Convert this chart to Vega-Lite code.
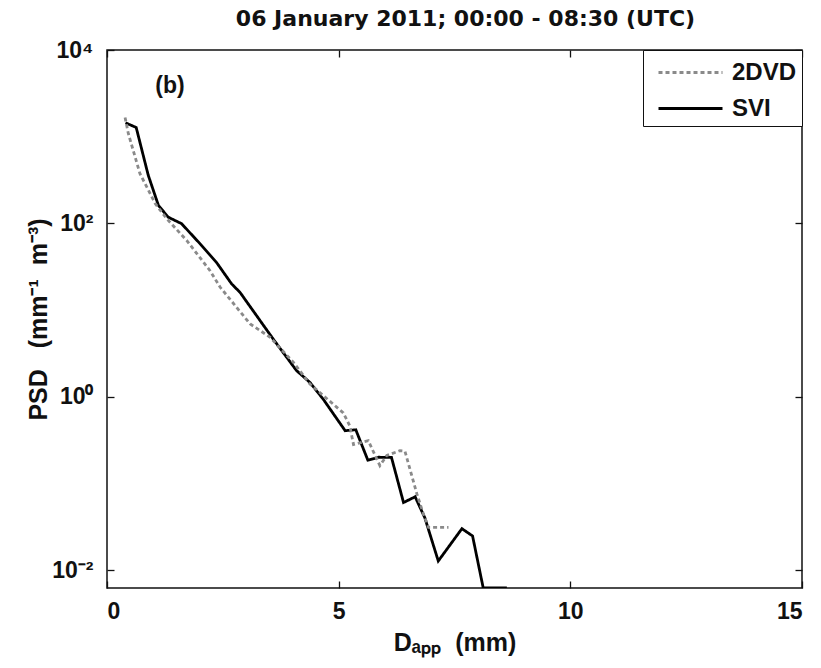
{
  "$schema": "https://vega.github.io/schema/vega-lite/v6.json",
  "autosize": "none",
  "width": 695,
  "height": 538,
  "padding": {"left": 107, "top": 50, "right": 19, "bottom": 80},
  "background": "white",
  "title": {
    "text": "06 January 2011; 00:00 - 08:30 (UTC)",
    "font": "DejaVu Sans",
    "fontSize": 22,
    "fontWeight": "bold",
    "color": "#111",
    "offset": 8,
    "dx": 11
  },
  "config": {
    "view": {"stroke": "#111", "strokeWidth": 1.5},
    "axis": {
      "domain": false,
      "grid": false,
      "tickColor": "#111",
      "tickWidth": 1.3,
      "labelFont": "Liberation Sans",
      "labelFontWeight": "bold",
      "labelFontSize": 23,
      "labelColor": "#111",
      "titleFont": "Liberation Sans",
      "titleFontWeight": "bold",
      "titleFontSize": 25,
      "titleColor": "#111"
    }
  },
  "datasets": {
    "psd": [
      {"series": "SVI", "d": 0.40, "psd": 1445},
      {"series": "SVI", "d": 0.63, "psd": 1277},
      {"series": "SVI", "d": 0.89, "psd": 359},
      {"series": "SVI", "d": 1.11, "psd": 161},
      {"series": "SVI", "d": 1.32, "psd": 118},
      {"series": "SVI", "d": 1.61, "psd": 99},
      {"series": "SVI", "d": 2.01, "psd": 58},
      {"series": "SVI", "d": 2.37, "psd": 35},
      {"series": "SVI", "d": 2.69, "psd": 20},
      {"series": "SVI", "d": 2.87, "psd": 16},
      {"series": "SVI", "d": 3.59, "psd": 4.6},
      {"series": "SVI", "d": 4.09, "psd": 2.0},
      {"series": "SVI", "d": 4.38, "psd": 1.46},
      {"series": "SVI", "d": 4.67, "psd": 0.93},
      {"series": "SVI", "d": 5.14, "psd": 0.405},
      {"series": "SVI", "d": 5.37, "psd": 0.415},
      {"series": "SVI", "d": 5.63, "psd": 0.185},
      {"series": "SVI", "d": 5.86, "psd": 0.2},
      {"series": "SVI", "d": 6.14, "psd": 0.199},
      {"series": "SVI", "d": 6.40, "psd": 0.06},
      {"series": "SVI", "d": 6.65, "psd": 0.07},
      {"series": "SVI", "d": 6.86, "psd": 0.04},
      {"series": "SVI", "d": 7.15, "psd": 0.0127},
      {"series": "SVI", "d": 7.66, "psd": 0.03},
      {"series": "SVI", "d": 7.89, "psd": 0.0247},
      {"series": "SVI", "d": 8.12, "psd": 0.0062},
      {"series": "SVI", "d": 8.63, "psd": 0.0062},
      {"series": "2DVD", "d": 0.39, "psd": 1667},
      {"series": "2DVD", "d": 0.46, "psd": 1089},
      {"series": "2DVD", "d": 0.71, "psd": 376},
      {"series": "2DVD", "d": 1.04, "psd": 169},
      {"series": "2DVD", "d": 1.29, "psd": 113},
      {"series": "2DVD", "d": 1.72, "psd": 63.5},
      {"series": "2DVD", "d": 2.22, "psd": 28.6},
      {"series": "2DVD", "d": 2.44, "psd": 18.4},
      {"series": "2DVD", "d": 3.09, "psd": 6.9},
      {"series": "2DVD", "d": 3.52, "psd": 4.85},
      {"series": "2DVD", "d": 4.02, "psd": 2.5},
      {"series": "2DVD", "d": 4.38, "psd": 1.4},
      {"series": "2DVD", "d": 5.10, "psd": 0.65},
      {"series": "2DVD", "d": 5.24, "psd": 0.46},
      {"series": "2DVD", "d": 5.32, "psd": 0.28},
      {"series": "2DVD", "d": 5.64, "psd": 0.31},
      {"series": "2DVD", "d": 5.89, "psd": 0.16},
      {"series": "2DVD", "d": 6.04, "psd": 0.21},
      {"series": "2DVD", "d": 6.32, "psd": 0.238},
      {"series": "2DVD", "d": 6.43, "psd": 0.235},
      {"series": "2DVD", "d": 6.69, "psd": 0.075},
      {"series": "2DVD", "d": 6.83, "psd": 0.044},
      {"series": "2DVD", "d": 6.94, "psd": 0.031},
      {"series": "2DVD", "d": 7.37, "psd": 0.031}
    ],
    "panel": [
      {"label": "(b)", "d": 1.36, "psd": 3840}
    ]
  },
  "data": {"name": "psd"},
  "layer": [
    {
      "mark": {"type": "line", "strokeWidth": 2.8, "clip": true},
      "encoding": {
        "x": {
          "field": "d",
          "type": "quantitative",
          "scale": {"domain": [0, 15], "nice": false},
          "axis": {"values": [0, 5, 10, 15], "tickSize": -7, "labelPadding": 19, "title": "Dₐₚₚ\u00a0\u00a0(mm)", "titlePadding": 7}
        },
        "y": {
          "field": "psd",
          "type": "quantitative",
          "scale": {"type": "log", "domain": [0.0062, 10000], "nice": false},
          "axis": {
            "values": [0.01, 1, 100, 10000],
            "tickSize": -7,
            "labelPadding": 21,
            "labelExpr": "datum.value >= 5000 ? '10⁴' : datum.value >= 50 ? '10²' : datum.value >= 0.5 ? '10⁰' : '10⁻²'",
            "title": "PSD\u00a0\u00a0\u00a0(mm⁻¹\u00a0\u00a0m⁻³)",
            "titlePadding": 0
          }
        },
        "color": {
          "field": "series",
          "type": "nominal",
          "scale": {"domain": ["2DVD", "SVI"], "range": ["#8a8a8a", "#000000"]},
          "legend": {
            "title": null,
            "orient": "top-right",
            "offset": 0,
            "fillColor": "white",
            "strokeColor": "#111",
            "padding": 5,
            "symbolType": "M-1,0H3",
            "symbolSize": 1024,
            "symbolStrokeWidth": 3,
            "symbolOffset": 9,
            "rowPadding": 6,
            "labelFont": "Liberation Sans",
            "labelFontWeight": "bold",
            "labelFontSize": 24,
            "labelColor": "#111",
            "labelOffset": 40
          }
        },
        "strokeDash": {
          "field": "series",
          "type": "nominal",
          "scale": {"domain": ["2DVD", "SVI"], "range": [[4, 3], [1, 0]]},
          "legend": null
        }
      }
    },
    {
      "mark": {"type": "point", "opacity": 0},
      "encoding": {
        "x": {
          "field": "d",
          "type": "quantitative",
          "axis": {"orient": "top", "values": [0, 5, 10, 15], "tickSize": -7, "labels": false, "title": null}
        },
        "y": {
          "field": "psd",
          "type": "quantitative",
          "axis": {"orient": "right", "values": [0.01, 1, 100, 10000], "tickSize": -7, "labels": false, "title": null}
        }
      }
    },
    {
      "data": {"name": "panel"},
      "mark": {"type": "text", "font": "Liberation Sans", "fontWeight": "bold", "fontSize": 23, "color": "#111", "align": "center", "baseline": "middle"},
      "encoding": {
        "x": {"field": "d", "type": "quantitative", "axis": null},
        "y": {"field": "psd", "type": "quantitative", "axis": null},
        "text": {"field": "label"}
      }
    }
  ],
  "resolve": {"axis": {"x": "independent", "y": "independent"}}
}
